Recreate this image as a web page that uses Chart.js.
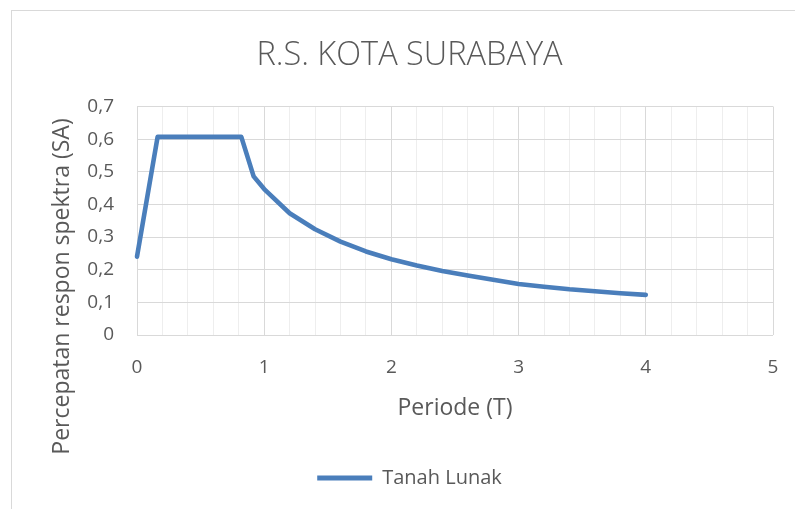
<!DOCTYPE html>
<html>
<head>
<meta charset="utf-8">
<script src="https://cdn.jsdelivr.net/npm/chart.js@4/dist/chart.umd.min.js"></script>
<style>
  html, body { margin: 0; padding: 0; background: #ffffff; }
  #wrap { position: relative; width: 795px; height: 509px; overflow: hidden; }
  #frame { position: absolute; left: 11px; top: 10px; width: 820px; height: 540px; border: 1px solid #d9d9d9; box-sizing: border-box; }
  #c { position: absolute; left: 0; top: 0; }
</style>
</head>
<body>
<div id="wrap">
  <div id="frame"></div>
  <canvas id="c" width="795" height="509"></canvas>
</div>
<script>
// ---- data ----
const chartTitle = 'R.S. KOTA SURABAYA';
const seriesName = 'Tanah Lunak';
const xAxisTitle = 'Periode (T)';
const yAxisTitle = 'Percepatan respon spektra (SA)';
const periods  = [0, 0.162, 0.82, 0.917, 1.0, 1.2, 1.4, 1.6, 1.8, 2.0, 2.2, 2.4, 2.6, 2.8, 3.0, 3.2, 3.4, 3.6, 3.8, 4.0];
const saValues = [0.240, 0.607, 0.607, 0.486, 0.447, 0.373, 0.324, 0.286, 0.256, 0.232, 0.213, 0.196, 0.182, 0.169, 0.156, 0.148, 0.140, 0.134, 0.128, 0.123];
const xTickLabels = ['0', '1', '2', '3', '4', '5'];
const yTickLabels = ['0', '0,1', '0,2', '0,3', '0,4', '0,5', '0,6', '0,7'];

const points = periods.map((t, i) => ({ x: t, y: saValues[i] }));
const lineColor = '#4a7ebb';
const textColor = '#595959';
const fontFamily = '"Open Sans", Lato, sans-serif';

// The vertical axis title in the reference sits lower than the plot centre
// (centred on the whole chart frame), so it is drawn as text next to the y scale.
const yTitlePlugin = {
  id: 'yTitleBox',
  afterDraw(chart) {
    const { ctx } = chart;
    const yScale = chart.scales.y;
    ctx.save();
    ctx.translate(yScale.left + 16, 286.5);
    ctx.rotate(-Math.PI / 2);
    ctx.font = '23px ' + fontFamily;
    ctx.fillStyle = textColor;
    ctx.textAlign = 'center';
    ctx.textBaseline = 'middle';
    ctx.fillText(yAxisTitle, 0, 0);
    ctx.restore();
  }
};

new Chart(document.getElementById('c'), {
  type: 'line',
  data: {
    datasets: [{
      label: seriesName,
      data: points,
      borderColor: lineColor,
      backgroundColor: lineColor,
      borderWidth: 4.6,
      pointRadius: 0,
      tension: 0,
      borderCapStyle: 'round',
      borderJoinStyle: 'round',
      clip: false
    }]
  },
  plugins: [yTitlePlugin],
  options: {
    responsive: false,
    animation: false,
    devicePixelRatio: 1,
    layout: { padding: { left: 46, right: 22, top: 10, bottom: 11 } },
    plugins: {
      title: {
        display: true,
        text: chartTitle,
        color: textColor,
        font: { family: fontFamily, size: 32.5, weight: '300' },
        padding: { top: 26, bottom: 31.5 }
      },
      legend: {
        display: true,
        position: 'bottom',
        labels: {
          color: textColor,
          font: { family: fontFamily, size: 20 },
          boxWidth: 55,
          boxHeight: 5,
          padding: 10,
          generateLabels: () => [{
            text: seriesName,
            fillStyle: lineColor,
            strokeStyle: lineColor,
            lineWidth: 0,
            hidden: false,
            datasetIndex: 0,
            fontColor: textColor
          }]
        }
      },
      tooltip: { enabled: false }
    },
    scales: {
      x: {
        type: 'linear',
        min: 0,
        max: 5,
        afterFit: (s) => { s.height = 123; s.paddingLeft = 0; s.paddingRight = 0; },
        ticks: {
          stepSize: 0.2,
          autoSkip: false,
          maxRotation: 0,
          padding: 21,
          color: textColor,
          font: { family: fontFamily, size: 19 },
          callback: (v) => {
            const r = Math.round(v);
            return Math.abs(v - r) < 1e-6 ? xTickLabels[r] : '';
          }
        },
        grid: {
          drawTicks: false,
          lineWidth: 1,
          color: (ctx) => {
            const v = ctx.tick ? ctx.tick.value : 0;
            return Math.abs(v - Math.round(v)) < 1e-6 ? '#d9d9d9' : '#eeeeee';
          }
        },
        border: { display: false },
        title: {
          display: true,
          text: xAxisTitle,
          color: textColor,
          font: { family: fontFamily, size: 23 },
          padding: { top: 0, bottom: 36 }
        }
      },
      y: {
        type: 'linear',
        min: 0,
        max: 0.7,
        afterFit: (s) => { s.width = 91; },
        ticks: {
          stepSize: 0.1,
          padding: 23,
          color: textColor,
          font: { family: fontFamily, size: 19 },
          callback: (v, i) => yTickLabels[i]
        },
        grid: { drawTicks: false, color: '#d9d9d9', lineWidth: 1 },
        border: { display: false },
        title: { display: false }
      }
    }
  }
});
</script>
</body>
</html>
